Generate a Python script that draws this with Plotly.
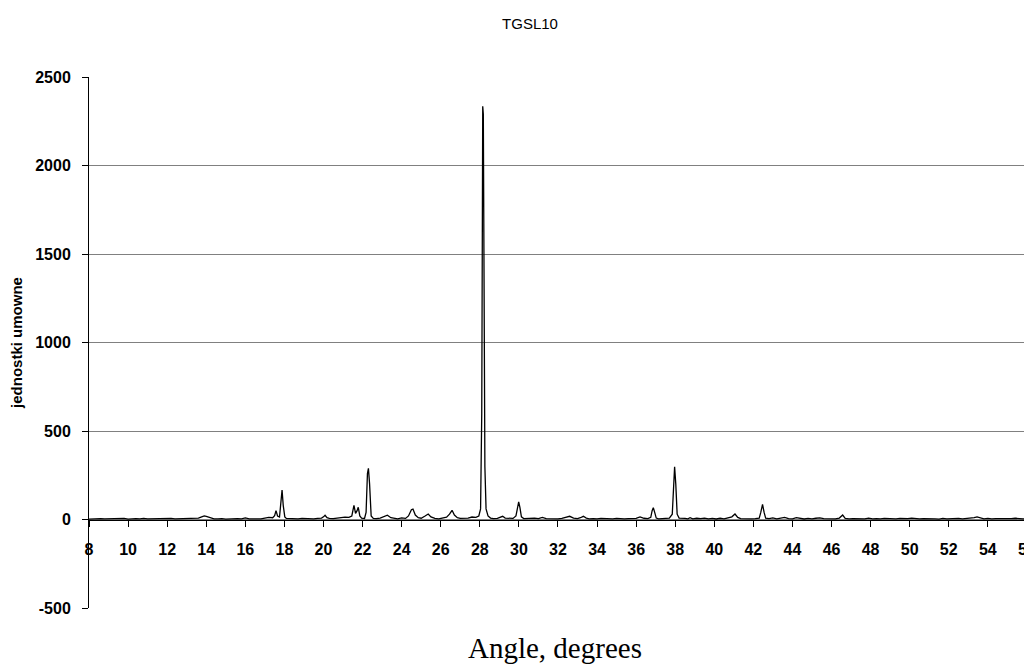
import plotly.graph_objects as go

title_text = "TGSL10"
x_title = "Angle, degrees"
y_title = "jednostki umowne"

angle = [
    8.0, 8.2, 8.4, 8.6, 8.8, 9.0, 9.2, 9.4, 9.6, 9.8,
    10.0, 10.2, 10.4, 10.6, 10.8, 11.0, 11.2, 11.4, 11.6, 11.8,
    12.0, 12.2, 12.4, 12.6, 12.8, 13.0, 13.2, 13.4, 13.6, 13.8,
    13.9, 14.0, 14.2, 14.4, 14.6, 14.8, 15.0, 15.2, 15.4, 15.6,
    15.8, 16.0, 16.2, 16.4, 16.6, 16.8, 17.0, 17.2, 17.4, 17.5,
    17.57, 17.65, 17.75, 17.83, 17.88, 17.94, 18.02, 18.1, 18.3, 18.5,
    18.7, 18.9, 19.1, 19.3, 19.5, 19.7, 19.9, 20.0, 20.08, 20.18,
    20.3, 20.5, 20.7, 20.9, 21.1, 21.3, 21.45, 21.56, 21.64, 21.72,
    21.78, 21.86, 21.95, 22.1, 22.18, 22.25, 22.3, 22.36, 22.44, 22.55,
    22.7, 22.9, 23.1, 23.27, 23.45, 23.6, 23.8, 24.0, 24.2, 24.35,
    24.5, 24.58, 24.7, 24.85, 25.0, 25.2, 25.36, 25.5, 25.7, 25.9,
    26.1, 26.3, 26.45, 26.58, 26.7, 26.85, 27.0, 27.2, 27.4, 27.6,
    27.8, 27.95, 28.04, 28.1, 28.13, 28.15, 28.18, 28.21, 28.26, 28.32,
    28.42, 28.55, 28.7, 28.9, 29.05, 29.17, 29.3, 29.5, 29.7, 29.85,
    29.93, 29.99, 30.05, 30.13, 30.25, 30.4, 30.6, 30.8, 31.0, 31.2,
    31.4, 31.6, 31.8, 32.0, 32.2, 32.4, 32.6, 32.8, 33.0, 33.15,
    33.3, 33.45, 33.6, 33.8, 34.0, 34.2, 34.4, 34.6, 34.8, 35.0,
    35.2, 35.4, 35.6, 35.8, 36.0, 36.2, 36.4, 36.6, 36.75, 36.82,
    36.88, 36.95, 37.03, 37.15, 37.3, 37.5, 37.7, 37.85, 37.92, 37.97,
    38.03, 38.1, 38.2, 38.35, 38.5, 38.65, 38.76, 38.9, 39.1, 39.3,
    39.5, 39.7, 39.9, 40.1, 40.3, 40.5, 40.7, 40.9, 41.06, 41.2,
    41.35, 41.5, 41.7, 41.9, 42.1, 42.3, 42.38, 42.47, 42.55, 42.63,
    42.8, 43.0, 43.2, 43.4, 43.6, 43.8, 44.0, 44.2, 44.4, 44.6,
    44.8, 45.0, 45.2, 45.4, 45.6, 45.8, 46.0, 46.2, 46.4, 46.57,
    46.7, 46.9, 47.1, 47.3, 47.5, 47.7, 47.9, 48.1, 48.3, 48.5,
    48.7, 48.9, 49.1, 49.3, 49.5, 49.7, 49.9, 50.1, 50.3, 50.5,
    50.7, 50.9, 51.1, 51.3, 51.5, 51.7, 51.9, 52.1, 52.3, 52.5,
    52.7, 52.9, 53.1, 53.3, 53.45, 53.6, 53.8, 54.0, 54.2, 54.4,
    54.6, 54.8, 55.0, 55.2, 55.4, 55.6, 55.8, 56.0, 56.2, 56.4,
]

intensity = [
    2, 4, 3, 5, 3, 4, 2, 5, 3, 6,
    2, 4, 5, 3, 6, 3, 4, 2, 5, 3,
    4, 6, 3, 4, 2, 5, 3, 6, 8, 16,
    20, 17, 9, 4, 3, 5, 2, 4, 3, 5,
    4, 9, 4, 3, 6, 4, 8, 12, 10, 22,
    50, 20, 14, 90, 167, 80, 15, 6, 4, 5,
    3, 6, 4, 5, 3, 6, 8, 15, 24, 10,
    6, 5, 8, 12, 13, 12, 20, 80, 35, 50,
    69, 20, 8, 6, 40, 260, 289, 200, 20, 6,
    5, 8, 15, 24, 10, 6, 4, 9, 6, 20,
    55, 59, 25, 10, 7, 20, 31, 15, 6, 4,
    8, 13, 30, 52, 25, 10, 6, 5, 8, 14,
    12, 20, 60, 600, 1900, 2335, 2290, 1400, 300, 60,
    20, 8, 5, 6, 12, 18, 8, 5, 6, 20,
    80, 99, 70, 15, 5, 6, 4, 8, 5, 12,
    5, 4, 6, 3, 6, 10, 18, 8, 5, 10,
    18, 8, 4, 5, 3, 6, 4, 5, 3, 6,
    4, 3, 5, 4, 6, 15, 7, 5, 12, 50,
    67, 40, 8, 4, 6, 5, 8, 30, 220, 298,
    200, 30, 8, 5, 6, 4, 10, 4, 7, 5,
    8, 4, 6, 3, 7, 4, 8, 15, 31, 12,
    5, 4, 6, 3, 5, 8, 40, 86, 40, 8,
    5, 9, 4, 6, 12, 5, 4, 10, 5, 3,
    6, 4, 7, 9, 5, 4, 6, 3, 8, 25,
    6, 3, 5, 4, 6, 3, 8, 4, 5, 3,
    6, 4, 5, 3, 6, 4, 5, 8, 4, 3,
    5, 6, 3, 4, 2, 6, 3, 5, 4, 6,
    3, 5, 7, 10, 15, 9, 4, 6, 3, 5,
    4, 6, 3, 5, 7, 4, 3, 6, 4, 5,
]

x_ticks = [8, 10, 12, 14, 16, 18, 20, 22, 24, 26, 28, 30, 32, 34, 36, 38, 40,
           42, 44, 46, 48, 50, 52, 54, 56]
y_ticks = [-500, 0, 500, 1000, 1500, 2000, 2500]
x_range = [8, 56.26]
y_range = [-500, 2500]

# page has an 8px body margin; the figure is sized to fill the rest of the window
W, H = 1024, 658
L, T, B = 81, 69, 58
plot_w = W - L
plot_h = H - T - B

fig = go.Figure()
fig.add_trace(go.Scatter(
    x=angle, y=intensity, mode="lines",
    line=dict(color="black", width=1.3),
    hoverinfo="x+y", showlegend=False,
))

axis_font = dict(family="Liberation Sans, Arial, sans-serif", size=16, color="black", weight="bold")

fig.update_layout(
    width=W, height=H,
    margin=dict(l=L, r=0, t=T, b=B, autoexpand=False),
    paper_bgcolor="white", plot_bgcolor="white",
    title=dict(text=title_text, x=522 / W, xref="container", xanchor="center",
               y=1 - 16 / H, yref="container", yanchor="middle",
               font=dict(family="Liberation Sans, Arial, sans-serif", size=15, color="black")),
    xaxis=dict(
        range=x_range, tickvals=x_ticks, ticktext=[str(v) for v in x_ticks],
        anchor="free", position=(0 - y_range[0]) / (y_range[1] - y_range[0]),
        showline=True, linecolor="black", linewidth=1,
        ticks="outside", ticklen=6, tickcolor="black", tickwidth=1,
        ticklabelstandoff=9, ticklabeloverflow="allow",
        showgrid=False, zeroline=False, tickfont=axis_font,
    ),
    yaxis=dict(
        range=y_range, tickvals=y_ticks, ticktext=[str(v) for v in y_ticks],
        showline=True, linecolor="black", linewidth=1,
        ticks="outside", ticklen=6, tickcolor="black", tickwidth=1,
        ticklabelstandoff=8,
        showgrid=True, gridcolor="#808080", gridwidth=1, zeroline=False,
        tickfont=axis_font,
        title=dict(text=y_title, standoff=8,
                   font=dict(family="Liberation Sans, Arial, sans-serif", size=15,
                             color="black", weight="bold")),
    ),
    annotations=[dict(
        text=x_title, xref="paper", yref="paper",
        x=(547 - L) / plot_w, y=-40 / plot_h,
        xanchor="center", yanchor="middle", showarrow=False,
        font=dict(family="Liberation Serif, Times New Roman, serif", size=29, color="black"),
    )],
)

fig.write_html("out.html")
